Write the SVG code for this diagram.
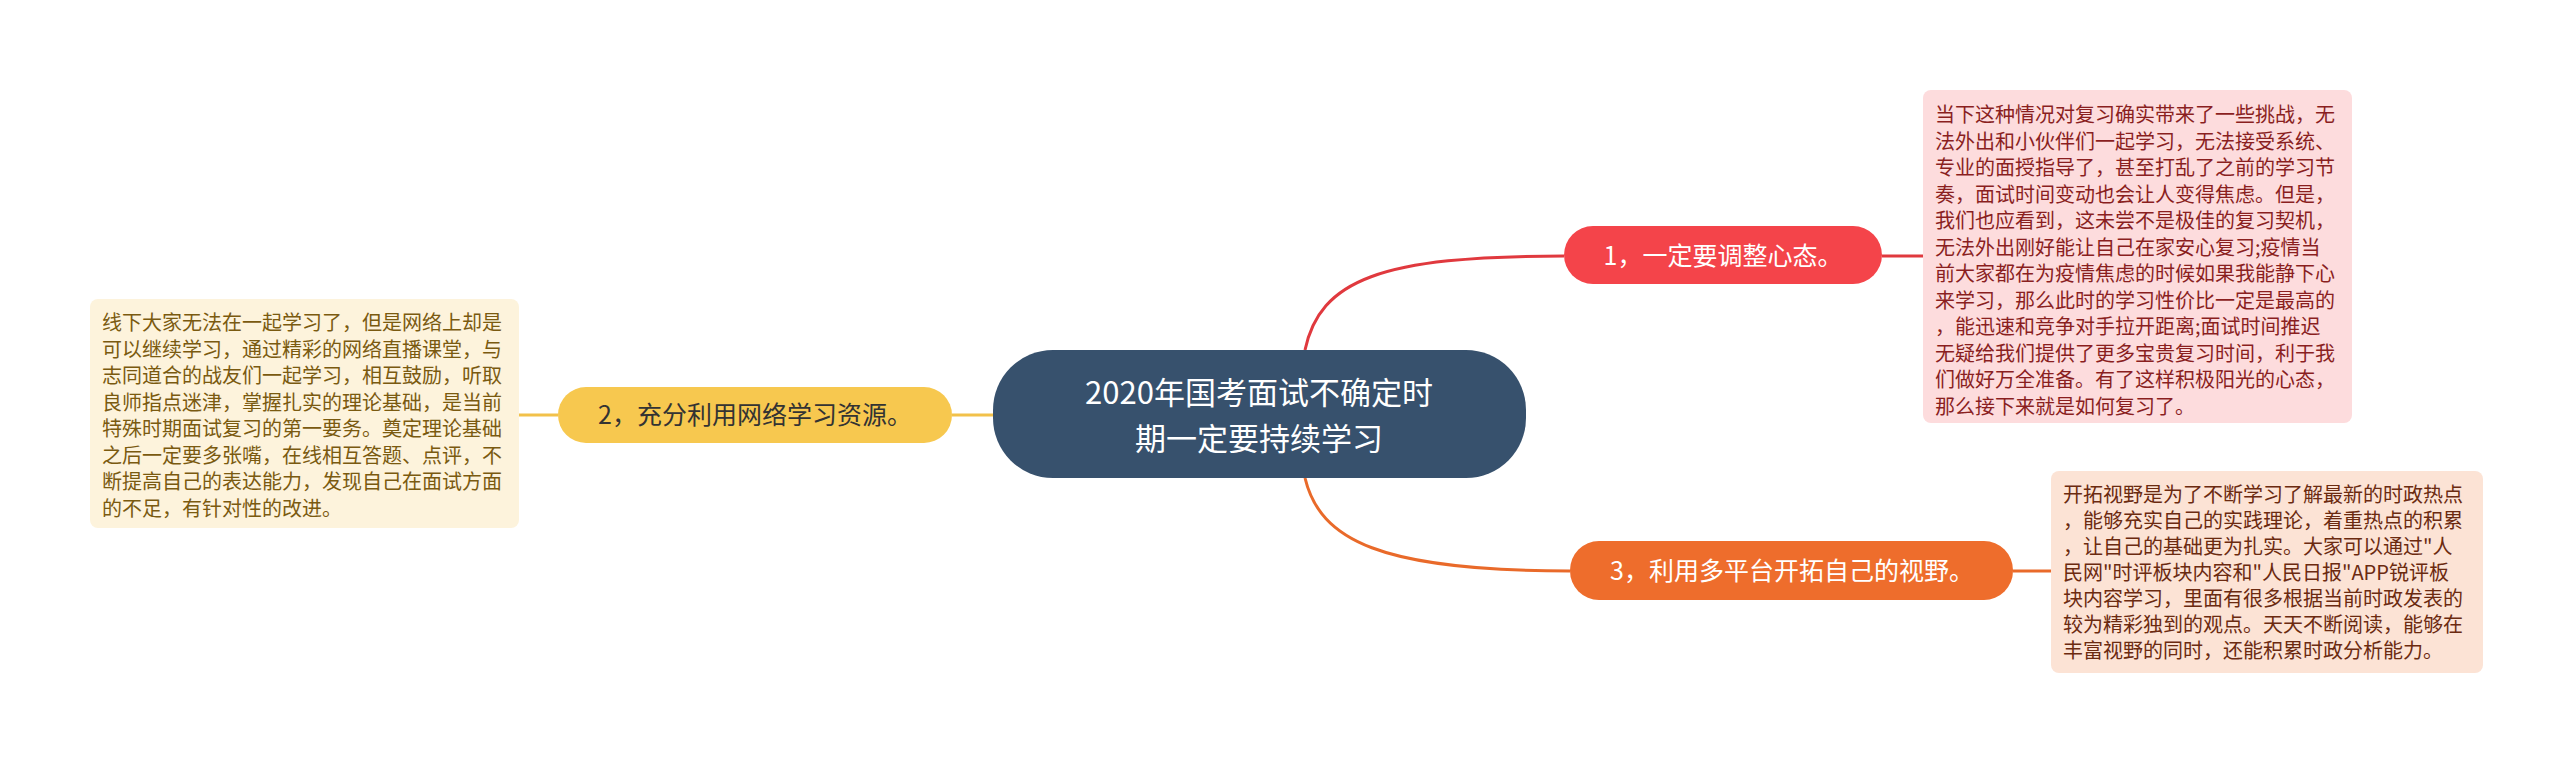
<svg xmlns="http://www.w3.org/2000/svg" width="2560" height="759" viewBox="0 0 2560 759">
<style>
text{font-family:"Noto Sans CJK SC","Noto Sans",sans-serif}
.c{fill:none;stroke-width:3}
.d{font-size:20px}
</style>
<rect width="2560" height="759" fill="#fff"/>
<g id="connectors">
<path class="c" stroke="#e0393e" d="M1305,350 C1320,280 1380,256 1564,256"/>
<path class="c" stroke="#e0393e" d="M1882,256 H1923"/>
<path class="c" stroke="#e96a2a" d="M1305,478 C1320,540 1380,571 1570,571"/>
<path class="c" stroke="#e96a2a" d="M2013,571 H2051"/>
<path class="c" stroke="#f2c14a" d="M993,415 H952 M558,415 H519"/>
</g>
<g id="center">
<rect x="993" y="350" width="533" height="128" rx="60" fill="#37516d"/>
<text x="1259" y="404" font-size="31" fill="#fff" text-anchor="middle">2020年国考面试不确定时</text>
<text x="1259" y="450" font-size="31" fill="#fff" text-anchor="middle">期一定要持续学习</text>
</g>
<g id="n1">
<rect x="1564" y="226" width="318" height="58" rx="29" fill="#f4444a"/>
<text x="1723" y="265" font-size="25" fill="#fff" text-anchor="middle">1，一定要调整心态。</text>
</g>
<g id="n2">
<rect x="558" y="387" width="394" height="56" rx="28" fill="#f7c84f"/>
<text x="755" y="424" font-size="25" fill="#333" text-anchor="middle">2，充分利用网络学习资源。</text>
</g>
<g id="n3">
<rect x="1570" y="541" width="443" height="59" rx="29" fill="#ee6d2c"/>
<text x="1792" y="580" font-size="25" fill="#fff" text-anchor="middle">3，利用多平台开拓自己的视野。</text>
</g>
<g id="b1">
<rect x="1923" y="90" width="429" height="333" rx="8" fill="#fddcdd"/>
<text class="d" fill="#8a1f1f" x="1935">
<tspan x="1935" y="122">当下这种情况对复习确实带来了一些挑战，无</tspan>
<tspan x="1935" y="148.5">法外出和小伙伴们一起学习，无法接受系统、</tspan>
<tspan x="1935" y="175">专业的面授指导了，甚至打乱了之前的学习节</tspan>
<tspan x="1935" y="201.5">奏，面试时间变动也会让人变得焦虑。但是，</tspan>
<tspan x="1935" y="228">我们也应看到，这未尝不是极佳的复习契机，</tspan>
<tspan x="1935" y="254.5">无法外出刚好能让自己在家安心复习;疫情当</tspan>
<tspan x="1935" y="281">前大家都在为疫情焦虑的时候如果我能静下心</tspan>
<tspan x="1935" y="307.5">来学习，那么此时的学习性价比一定是最高的</tspan>
<tspan x="1935" y="334">，能迅速和竞争对手拉开距离;面试时间推迟</tspan>
<tspan x="1935" y="360.5">无疑给我们提供了更多宝贵复习时间，利于我</tspan>
<tspan x="1935" y="387">们做好万全准备。有了这样积极阳光的心态，</tspan>
<tspan x="1935" y="413.5">那么接下来就是如何复习了。</tspan>
</text>
</g>
<g id="b2">
<rect x="90" y="299" width="429" height="229" rx="8" fill="#fdf3dc"/>
<text class="d" fill="#7a5a10">
<tspan x="102" y="330">线下大家无法在一起学习了，但是网络上却是</tspan>
<tspan x="102" y="356.5">可以继续学习，通过精彩的网络直播课堂，与</tspan>
<tspan x="102" y="383">志同道合的战友们一起学习，相互鼓励，听取</tspan>
<tspan x="102" y="409.5">良师指点迷津，掌握扎实的理论基础，是当前</tspan>
<tspan x="102" y="436">特殊时期面试复习的第一要务。奠定理论基础</tspan>
<tspan x="102" y="462.5">之后一定要多张嘴，在线相互答题、点评，不</tspan>
<tspan x="102" y="489">断提高自己的表达能力，发现自己在面试方面</tspan>
<tspan x="102" y="515.5">的不足，有针对性的改进。</tspan>
</text>
</g>
<g id="b3">
<rect x="2051" y="471" width="432" height="202" rx="8" fill="#fce3d5"/>
<text class="d" fill="#6b2a10">
<tspan x="2063" y="502">开拓视野是为了不断学习了解最新的时政热点</tspan>
<tspan x="2063" y="528">，能够充实自己的实践理论，着重热点的积累</tspan>
<tspan x="2063" y="554">，让自己的基础更为扎实。大家可以通过"人</tspan>
<tspan x="2063" y="580">民网"时评板块内容和"人民日报"APP锐评板</tspan>
<tspan x="2063" y="606">块内容学习，里面有很多根据当前时政发表的</tspan>
<tspan x="2063" y="632">较为精彩独到的观点。天天不断阅读，能够在</tspan>
<tspan x="2063" y="658">丰富视野的同时，还能积累时政分析能力。</tspan>
</text>
</g>
</svg>
